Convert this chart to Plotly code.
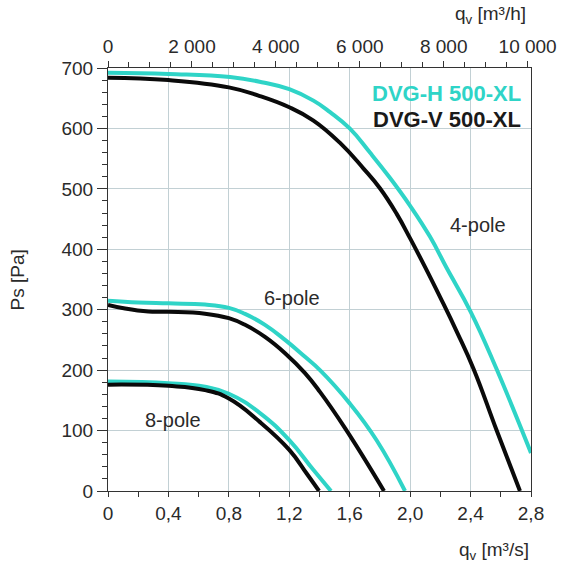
import plotly.graph_objects as go

# ---- data (qv in m3/s, Ps in Pa) ----
h4_q = [0, 0.4, 0.808, 1.028, 1.2, 1.36, 1.47, 1.6, 1.734, 1.867, 2.0, 2.131, 2.242, 2.4, 2.57, 2.8]
h4_p = [692, 690, 685, 676, 665, 646, 627, 600, 560, 518, 472, 421, 369, 297, 203, 63]
v4_q = [0, 0.4, 0.8, 1.0, 1.2, 1.36, 1.536, 1.69, 1.8, 1.91, 2.0, 2.1, 2.2, 2.31, 2.42, 2.573, 2.727]
v4_p = [684, 680, 668, 654, 635, 613, 576, 534, 501, 459, 418, 370, 320, 263, 202, 100, 0]

h6_q = [0, 0.2, 0.4, 0.642, 0.8, 0.907, 1.039, 1.172, 1.304, 1.403, 1.6, 1.778, 1.966]
h6_p = [315, 312, 310.5, 308.5, 303, 293, 275, 250, 222, 200, 145, 84, 0]
v6_q = [0, 0.113, 0.267, 0.4, 0.642, 0.8, 0.907, 1.039, 1.172, 1.304, 1.403, 1.569, 1.827]
v6_p = [308, 302, 297, 296.5, 293.5, 286, 275, 255, 228, 195, 164, 104, 0]

h8_q = [0, 0.4, 0.642, 0.8, 1.006, 1.2, 1.359, 1.476]
h8_p = [181, 178.5, 172.5, 161, 129, 84, 35, 0]
v8_q = [0, 0.4, 0.642, 0.8, 1.006, 1.2, 1.315, 1.397]
v8_p = [176, 174, 167, 153, 114, 68, 29, 0]

x_ticks = [0, 0.4, 0.8, 1.2, 1.6, 2.0, 2.4, 2.8]
x_ticktext = ["0", "0,4", "0,8", "1,2", "1,6", "2,0", "2,4", "2,8"]
top_ticks = [0, 2000, 4000, 6000, 8000, 10000]
top_ticktext = ["0", "2 000", "4 000", "6 000", "8 000", "10 000"]
y_ticks = [0, 100, 200, 300, 400, 500, 600, 700]

series_labels = ["DVG-H 500-XL", "DVG-V 500-XL"]
pole_labels = ["4-pole", "6-pole", "8-pole"]

TURQ = "#2FD4C7"
BLACK = "#0a0a0a"
FONT = "Liberation Sans, Arial, sans-serif"
TXT = "#2a2a2a"

fig = go.Figure()
for q, p, c in [(h4_q, h4_p, TURQ), (v4_q, v4_p, BLACK),
                (h6_q, h6_p, TURQ), (v6_q, v6_p, BLACK),
                (h8_q, h8_p, TURQ), (v8_q, v8_p, BLACK)]:
    fig.add_trace(go.Scatter(x=q, y=p, mode="lines",
                             line=dict(color=c, width=4, shape="spline", smoothing=1.3),
                             showlegend=False, hoverinfo="skip"))

# invisible trace to anchor the top m3/h axis
fig.add_trace(go.Scatter(x=[v * 3600 for v in h4_q], y=h4_p, xaxis="x2", mode="lines",
                         line=dict(width=0), opacity=0, showlegend=False, hoverinfo="skip"))

axis_line = "#333333"
grid = "#C2D0D4"

fig.update_layout(
    width=574, height=571,
    margin=dict(l=108, r=43, t=68, b=80),
    paper_bgcolor="white", plot_bgcolor="white",
    font=dict(family=FONT, size=19, color=TXT),
    xaxis=dict(range=[0, 2.8], tickvals=x_ticks, ticktext=x_ticktext,
               showgrid=True, gridcolor=grid, gridwidth=1,
               showline=True, linecolor=axis_line, linewidth=1,
               ticks="outside", ticklen=5, tickcolor=axis_line,
               minor=dict(dtick=0.2, ticks="outside", ticklen=5, tickcolor=axis_line, showgrid=False),
               zeroline=False, tickfont=dict(size=19, color=TXT)),
    xaxis2=dict(range=[0, 2.8 * 3600], overlaying="x", side="top", anchor="y",
                tickvals=top_ticks, ticktext=top_ticktext, showgrid=False,
                showline=True, linecolor=axis_line, linewidth=1,
                ticks="outside", ticklen=6, tickcolor=axis_line,
                minor=dict(dtick=500, tick0=0, ticks="outside", ticklen=5, tickcolor=axis_line),
                zeroline=False, tickfont=dict(size=19, color=TXT)),
    yaxis=dict(range=[0, 700], tickvals=y_ticks,
               showgrid=True, gridcolor=grid, gridwidth=1,
               showline=True, linecolor=axis_line, linewidth=1, mirror=True,
               ticks="outside", ticklen=10, tickcolor=axis_line,
               minor=dict(dtick=20, ticks="outside", ticklen=5, tickcolor=axis_line, showgrid=False),
               zeroline=False, tickfont=dict(size=19, color=TXT)),
)

ann = []
ann.append(dict(x=2.75, y=658, xref="x", yref="y", text="<b>" + series_labels[0] + "</b>",
                showarrow=False, xanchor="right", yanchor="middle",
                font=dict(size=22, color=TURQ, family=FONT)))
ann.append(dict(x=2.75, y=614, xref="x", yref="y", text="<b>" + series_labels[1] + "</b>",
                showarrow=False, xanchor="right", yanchor="middle",
                font=dict(size=22, color="#1a1a1a", family=FONT)))
for txt, x, y in [(pole_labels[0], 2.449, 440), (pole_labels[1], 1.215, 319), (pole_labels[2], 0.427, 117)]:
    ann.append(dict(x=x, y=y, xref="x", yref="y", text=txt, showarrow=False,
                    xanchor="center", yanchor="middle", font=dict(size=20, color=TXT, family=FONT)))
ann.append(dict(x=-0.213, y=0.5, xref="paper", yref="paper", text="Ps [Pa]", textangle=-90,
                showarrow=False, xanchor="center", yanchor="middle", font=dict(size=19, color=TXT)))
ann.append(dict(x=0.992, y=1.125, xref="paper", yref="paper", text="q<sub>v</sub> [m³/h]",
                showarrow=False, xanchor="right", yanchor="middle", font=dict(size=19, color=TXT)))
ann.append(dict(x=0.999, y=-0.142, xref="paper", yref="paper", text="q<sub>v</sub> [m³/s]",
                showarrow=False, xanchor="right", yanchor="middle", font=dict(size=19, color=TXT)))
fig.update_layout(annotations=ann)

fig.write_html("out.html")
